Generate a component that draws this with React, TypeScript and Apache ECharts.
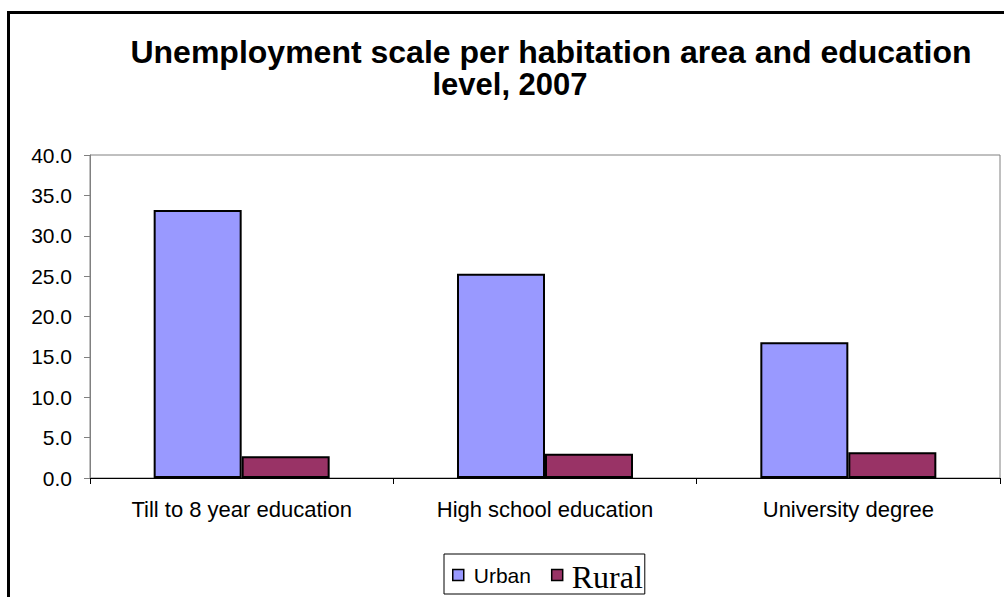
import React, { useEffect, useRef } from "react";
import * as echarts from "echarts";

const categories = ["Till to 8 year education", "High school education", "University degree"];
const urbanValues = [33.2, 25.3, 16.8];
const ruralValues = [2.7, 3.0, 3.2];
const titleLine1 = "Unemployment scale per habitation area and education";
const titleLine2 = "level, 2007";

export default function App() {
  const ref = useRef<HTMLDivElement>(null);
  useEffect(() => {
    if (!ref.current) return;
    const chart = echarts.init(ref.current, null, { renderer: "svg" });
    chart.setOption({
      animation: false,
      backgroundColor: "#ffffff",
      title: [
        {
          text: titleLine1,
          left: 551,
          top: 36,
          textAlign: "center",
          padding: 0,
          textStyle: { fontFamily: "Liberation Sans", fontSize: 32, fontWeight: "bold", color: "#000" },
        },
        {
          text: titleLine2,
          left: 510,
          top: 69,
          textAlign: "center",
          padding: 0,
          textStyle: { fontFamily: "Liberation Sans", fontSize: 31, fontWeight: "bold", color: "#000" },
        },
      ],
      graphic: [
        {
          type: "rect",
          shape: { x: 8.5, y: 12.5, width: 1100, height: 700 },
          style: { fill: "none", stroke: "#000", lineWidth: 3 },
          silent: true,
        },
      ],
      legend: {
        left: 444,
        top: 554,
        padding: [3, 2, 1, 8],
        itemWidth: 11,
        itemHeight: 11,
        itemGap: 20,
        icon: "rect",
        borderColor: "#000",
        borderWidth: 1,
        itemStyle: { borderColor: "#000", borderWidth: 1.5 },
        data: ["Urban", "Rural"],
        formatter: (name: string) => (name === "Rural" ? `{r|${name}}` : `{u|${name}}`),
        textStyle: {
          rich: {
            u: { fontFamily: "Liberation Sans", fontSize: 21, color: "#000", padding: [0, 0, 0, 5] },
            r: { fontFamily: "Liberation Serif", fontSize: 32, color: "#000", padding: [4, 0, 0, 4], lineHeight: 30 },
          },
        },
      },
      grid: {
        left: 90,
        right: 4,
        top: 155,
        bottom: 119,
        show: true,
        borderColor: "#808080",
        borderWidth: 1,
        backgroundColor: "transparent",
      },
      xAxis: {
        type: "category",
        data: categories,
        axisLine: { lineStyle: { color: "#000", width: 1 } },
        axisTick: { show: true, length: 6, lineStyle: { color: "#000" } },
        axisLabel: { fontFamily: "Liberation Sans", fontSize: 22, color: "#000", margin: 20 },
      },
      yAxis: {
        type: "value",
        min: 0,
        max: 40,
        interval: 5,
        splitLine: { show: false },
        axisLine: { show: true, lineStyle: { color: "#808080", width: 1 } },
        axisTick: { show: true, length: 6, lineStyle: { color: "#808080" } },
        axisLabel: {
          fontFamily: "Liberation Sans",
          fontSize: 21,
          color: "#000",
          margin: 18,
          formatter: (v: number) => v.toFixed(1),
        },
      },
      series: [
        {
          name: "Urban",
          type: "bar",
          data: urbanValues,
          barWidth: 88,
          barGap: "0%",
          itemStyle: { color: "#9999FF", borderColor: "#000", borderWidth: 2 },
        },
        {
          name: "Rural",
          type: "bar",
          data: ruralValues,
          barWidth: 88,
          barGap: "0%",
          itemStyle: { color: "#993366", borderColor: "#000", borderWidth: 2 },
        },
      ],
    });
    return () => chart.dispose();
  }, []);
  return (
    <div
      ref={ref}
      style={{ position: "fixed", left: 0, top: 0, width: 1004, height: 597, background: "#fff" }}
    />
  );
}
